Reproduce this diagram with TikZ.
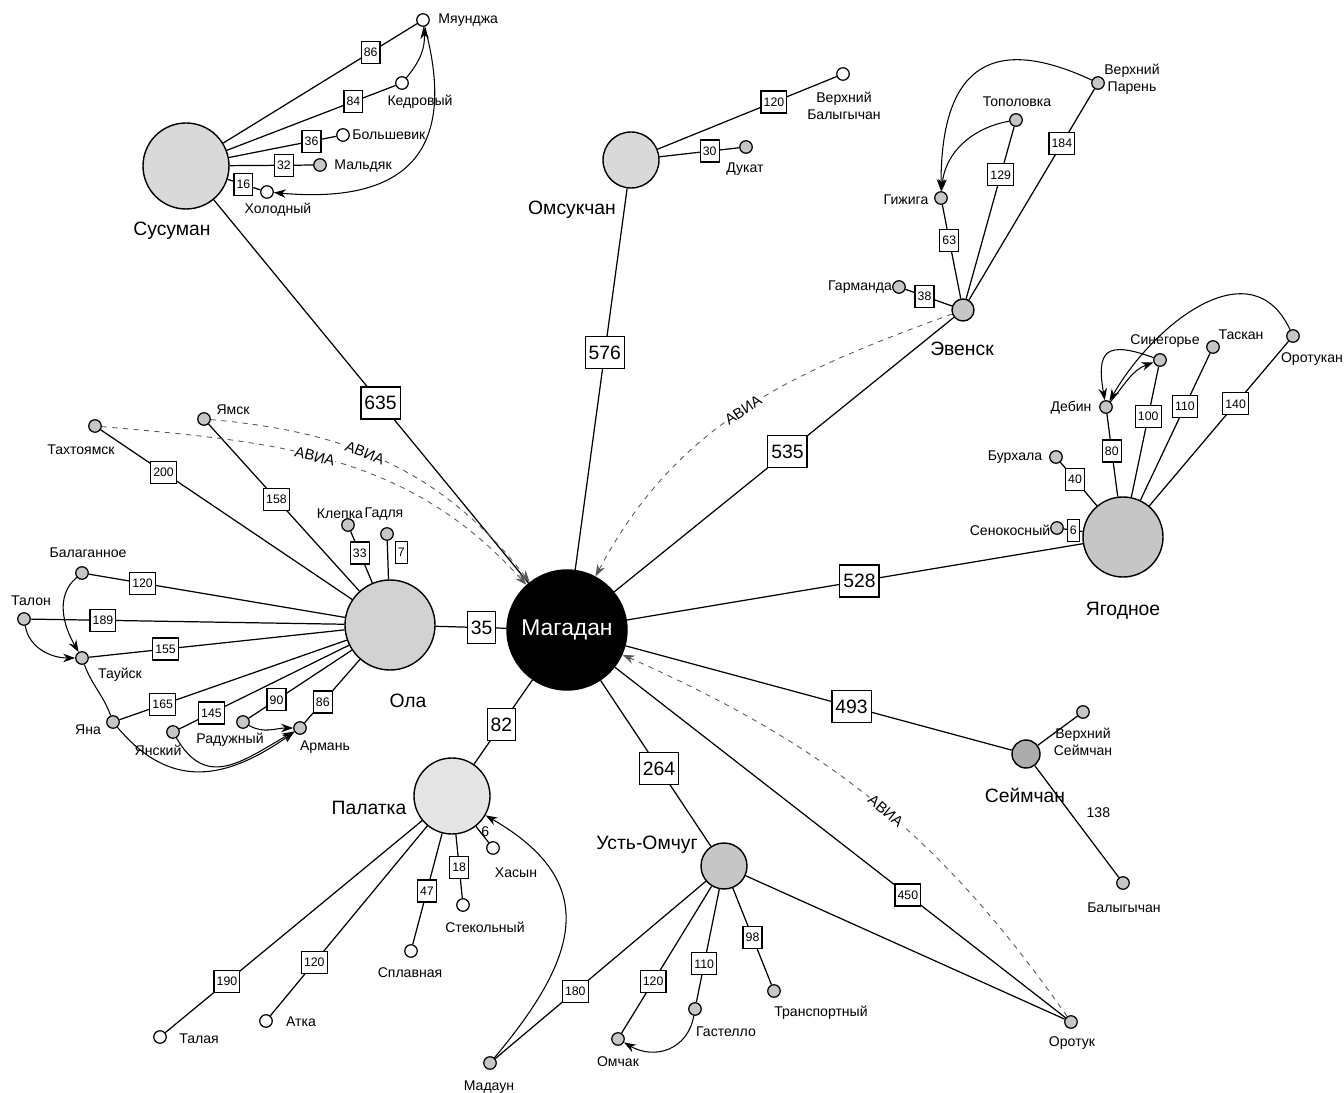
\documentclass[tikz,border=0pt]{standalone}
\usepackage{fontspec}
\setmainfont{Liberation Sans}
\usepackage{tikz}
\usetikzlibrary{arrows.meta}

\tikzset{
  hub/.style={circle, draw, line width=0.8pt, fill=gray!30, inner sep=0pt},
  town/.style={circle, draw, fill=gray!45, minimum size=2.5mm, inner sep=0pt},
  towno/.style={town, fill=white},
  dist/.style={draw, fill=white, font=\fontsize{7}{8}\selectfont, inner xsep=1.5pt, inner ysep=0pt, minimum height=4.4mm},
  bigdist/.style={draw, fill=white, font=\fontsize{11}{12}\selectfont, inner xsep=2pt, inner ysep=0pt, minimum height=6.4mm},
  lbl/.style={font=\fontsize{8}{9.5}\selectfont, align=center, inner sep=0.5pt},
  city/.style={font=\fontsize{11}{12}\selectfont, inner sep=0.5pt},
  avia/.style={->, dashed, gray!70!black, line width=0.5pt},
  avialbl/.style={sloped, fill=white, inner sep=0.5pt, text=black, font=\fontsize{8.5}{9}\selectfont},
  route/.style={->, line width=0.6pt}
}

\begin{document}
\begin{tikzpicture}[x=0.2mm, y=0.2mm, >={Stealth[length=2.4mm, width=1.7mm]}, line width=0.7pt]
\useasboundingbox (0,0) rectangle (1344,-1093);

\node[hub, fill=black, text=white, minimum size=24mm, font=\fontsize{13}{15}\selectfont] (mag) at (567,-630) {Магадан};
\node[hub, minimum size=18mm, fill=gray!35] (ola) at (390,-625) {};
\node[hub, minimum size=17.2mm] (sus) at (186,-166) {};
\node[hub, minimum size=11.2mm] (oms) at (631,-160) {};
\node[hub, minimum size=4.4mm, fill=gray!45] (eve) at (963,-310) {};
\node[hub, minimum size=16mm, fill=gray!45] (yag) at (1123,-537) {};
\node[hub, minimum size=5.6mm, fill=gray!65] (sey) at (1026,-754) {};
\node[hub, minimum size=15.2mm, fill=gray!20] (pal) at (452,-796) {};
\node[hub, minimum size=9.2mm, fill=gray!45] (ust) at (724,-866) {};

\node[towno] (mya) at (423,-20) {};
\node[towno] (ked) at (402,-83) {};
\node[towno] (bol) at (343,-135) {};
\node[town] (mal) at (320,-165) {};
\node[towno] (hol) at (267,-192) {};
\node[towno] (vbal) at (843,-74) {};
\node[town] (duk) at (746,-147) {};
\node[town] (vpar) at (1098,-83) {};
\node[town] (topo) at (1016,-120) {};
\node[town] (gizh) at (941,-198) {};
\node[town] (garm) at (899,-287) {};
\node[town] (sin) at (1160,-360) {};
\node[town] (tas) at (1213,-347) {};
\node[town] (orn) at (1293,-336) {};
\node[town] (deb) at (1106,-407) {};
\node[town] (bur) at (1056,-457) {};
\node[town] (sen) at (1057,-528) {};
\node[town] (vsey) at (1083,-712) {};
\node[town] (baly) at (1123,-883) {};
\node[towno] (has) at (493,-848) {};
\node[towno] (ste) at (463,-905) {};
\node[towno] (spl) at (411,-951) {};
\node[towno] (atk) at (266,-1021) {};
\node[towno] (tal) at (160,-1037) {};
\node[town] (mad) at (490,-1063) {};
\node[town] (omch) at (618,-1039) {};
\node[town] (gas) at (695,-1009) {};
\node[town] (tra) at (774,-991) {};
\node[town] (oro) at (1071,-1022) {};
\node[town] (tah) at (95,-426) {};
\node[town] (yam) at (204,-419) {};
\node[town] (kle) at (348,-525) {};
\node[town] (gad) at (387,-534) {};
\node[town] (bal) at (82,-573) {};
\node[town] (taln) at (24,-619) {};
\node[town] (tau) at (82,-658) {};
\node[town] (yana) at (113,-722) {};
\node[town] (yan) at (173,-732) {};
\node[town] (rad) at (243,-722) {};
\node[town] (arm) at (300,-728) {};

\node[city] (t-sus) at (172,-231) {Сусуман};
\node[city] (t-oms) at (572,-210) {Омсукчан};
\node[city] (t-eve) at (962,-349) {Эвенск};
\node[city] (t-yag) at (1123,-611) {Ягодное};
\node[city] (t-sey) at (1025,-795) {Сеймчан};
\node[city] (t-pal) at (369,-808) {Палатка};
\node[city] (t-ust) at (647,-845) {Усть-Омчуг};
\node[city] (t-ola) at (408,-701) {Ола};

\node[lbl, anchor=west] (t-mya) at (437,-20) {Мяунджа};
\node[lbl] (t-ked) at (420,-102) {Кедровый};
\node[lbl, anchor=west] (t-bol) at (351,-135) {Большевик};
\node[lbl, anchor=west] (t-mal) at (333,-166) {Мальдяк};
\node[lbl] (t-hol) at (278,-210) {Холодный};
\node[lbl] (t-vbal) at (844,-106) {Верхний\\Балыгычан};
\node[lbl] (t-duk) at (745,-169) {Дукат};
\node[lbl] (t-vpar) at (1132,-79) {Верхний\\Парень};
\node[lbl] (t-topo) at (1017,-102) {Тополовка};
\node[lbl] (t-gizh) at (906,-200) {Гижига};
\node[lbl] (t-garm) at (860,-287) {Гарманда};
\node[lbl] (t-sin) at (1165,-341) {Синегорье};
\node[lbl] (t-tas) at (1241,-335) {Таскан};
\node[lbl] (t-orn) at (1312,-359) {Оротукан};
\node[lbl] (t-deb) at (1071,-408) {Дебин};
\node[lbl] (t-bur) at (1015,-457) {Бурхала};
\node[lbl] (t-sen) at (1010,-530) {Сенокосный};
\node[lbl] (t-vsey) at (1083,-742) {Верхний\\Сеймчан};
\node[lbl] (t-baly) at (1124,-908) {Балыгычан};
\node[lbl] (t-has) at (516,-873) {Хасын};
\node[lbl] (t-ste) at (485,-927) {Стекольный};
\node[lbl] (t-spl) at (410,-973) {Сплавная};
\node[lbl] (t-atk) at (301,-1022) {Атка};
\node[lbl] (t-tal) at (199,-1039) {Талая};
\node[lbl] (t-mad) at (489,-1087) {Мадаун};
\node[lbl] (t-omch) at (618,-1062) {Омчак};
\node[lbl] (t-gas) at (726,-1032) {Гастелло};
\node[lbl] (t-tra) at (821,-1013) {Транспортный};
\node[lbl] (t-oro) at (1072,-1043) {Оротук};
\node[lbl] (t-tah) at (81,-450) {Тахтоямск};
\node[lbl] (t-yam) at (233,-410) {Ямск};
\node[lbl] (t-kle) at (340,-514) {Клепка};
\node[lbl] (t-gad) at (384,-514) {Гадля};
\node[lbl] (t-bal) at (88,-553) {Балаганное};
\node[lbl] (t-taln) at (31,-601) {Талон};
\node[lbl] (t-tau) at (120,-675) {Тауйск};
\node[lbl] (t-yana) at (88,-730) {Яна};
\node[lbl] (t-yan) at (158,-750) {Янский};
\node[lbl] (t-rad) at (230,-740) {Радужный};
\node[lbl] (t-arm) at (325,-747) {Армань};

\draw (sus) -- node[bigdist, pos=.53] {635} (mag);
\draw (oms) -- node[bigdist, pos=.43] {576} (mag);
\draw (eve) -- node[bigdist, pos=.49] {535} (mag);
\draw (mag) -- node[bigdist, pos=.51] {528} (yag);
\draw (mag) -- node[bigdist, pos=.585] {493} (sey);
\draw (mag) -- node[bigdist, pos=.53] {264} (ust);
\draw (mag) -- node[bigdist, pos=.53] {82} (pal);
\draw (ola) -- node[bigdist, pos=.65] {35} (mag);
\draw (mag) -- node[dist, pos=.65] {450} (oro);

\draw (sus) -- node[dist, pos=.76] {86} (mya);
\draw (sus) -- node[dist, pos=.75] {84} (ked);
\draw (sus) -- node[dist, pos=.77] {36} (bol);
\draw (sus) -- node[dist, pos=.65] {32} (mal);
\draw (sus) -- node[dist, pos=.48] {16} (hol);

\draw (oms) -- node[dist, pos=.65] {120} (vbal);
\draw (oms) -- node[dist, pos=.63] {30} (duk);

\draw (eve) -- node[dist, pos=.74] {184} (vpar);
\draw (eve) -- node[dist, pos=.72] {129} (topo);
\draw (eve) -- node[dist, pos=.62] {63} (gizh);
\draw (eve) -- node[dist, pos=.59] {38} (garm);

\draw (yag) -- node[dist, pos=.55] {80} (deb);
\draw (yag) -- node[dist, pos=.62] {100} (sin);
\draw (yag) -- node[dist, pos=.64] {110} (tas);
\draw (yag) -- node[dist, pos=.62] {140} (orn);
\draw (yag) -- node[dist, pos=.6] {40} (bur);
\draw (yag) -- node[dist, pos=.5] {6} (sen);

\draw (sey) -- (vsey);
\draw (sey) -- node[lbl, pos=.42, anchor=west, xshift=3mm] {138} (baly);

\draw (pal) -- node[lbl, pos=.3, anchor=west] {6} (has);
\draw (pal) -- node[dist, pos=.52] {18} (ste);
\draw (pal) -- node[dist, pos=.52] {47} (spl);
\draw (pal) -- node[dist, pos=.72] {120} (atk);
\draw (pal) -- node[dist, pos=.76] {190} (tal);

\draw (ust) -- node[dist, pos=.62] {180} (mad);
\draw (ust) -- node[dist, pos=.65] {120} (omch);
\draw (ust) -- node[dist, pos=.66] {110} (gas);
\draw (ust) -- node[dist, pos=.51] {98} (tra);
\draw (ust) -- (oro);

\draw (ola) -- node[dist, pos=.75] {200} (tah);
\draw (ola) -- node[dist, pos=.55] {158} (yam);
\draw (ola) -- node[dist, pos=.58] {33} (kle);
\draw (ola) -- node[dist, pos=.7, anchor=west, xshift=1.4mm] {7} (gad);
\draw (ola) -- node[dist, pos=.79] {120} (bal);
\draw (ola) -- node[dist, pos=.77] {189} (taln);
\draw (ola) -- node[dist, pos=.7] {155} (tau);
\draw (ola) -- node[dist, pos=.81] {165} (yana);
\draw (ola) -- node[dist, pos=.81] {145} (yan);
\draw (ola) -- node[dist, pos=.73] {90} (rad);
\draw (ola) -- node[dist, pos=.67] {86} (arm);

\draw[route] (ked) to[out=50, in=-85] (mya);
\draw[route] (mya) to[out=-75, in=-5, looseness=1.5] (hol);
\draw[route] (vpar) to[out=155, in=90, looseness=1.6] (gizh);
\draw[route] (topo) to[out=190, in=85] (gizh);
\draw[route] (orn) to[out=115, in=60, looseness=1.2] (deb);
\draw[route] (sin) to[out=160, in=100, looseness=2] (deb);
\draw[route] (deb) to[out=50, in=200] (sin);
\draw[route] (bal) to[out=220, in=120] (tau);
\draw[route] (taln) to[out=-80, in=180] (tau);
\draw[line width=0.6pt] (tau) to[out=-70, in=110] (yana);
\draw[route] (yana) to[out=-50, in=215, looseness=1.2] (arm);
\draw[route] (yan) to[out=-60, in=210, looseness=1.3] (arm);
\draw[route] (rad) to[out=-30, in=180] (arm);
\draw[route] (gas) to[out=-100, in=-30, looseness=1.2] (omch);
\draw[route] (mad) to[out=50, in=-30, looseness=1.4] (pal);

\draw[avia] (tah) to[out=-5, in=132] node[avialbl, pos=.45] {АВИА} (mag);
\draw[avia] (yam) to[out=-5, in=128] node[avialbl, pos=.42] {АВИА} (mag);
\draw[avia] (eve) to[out=200, in=62] node[avialbl, pos=.5] {АВИА} (mag);
\draw[avia] (oro) to[out=125, in=-24] node[avialbl, pos=.47] {АВИА} (mag);
\end{tikzpicture}
\end{document}
